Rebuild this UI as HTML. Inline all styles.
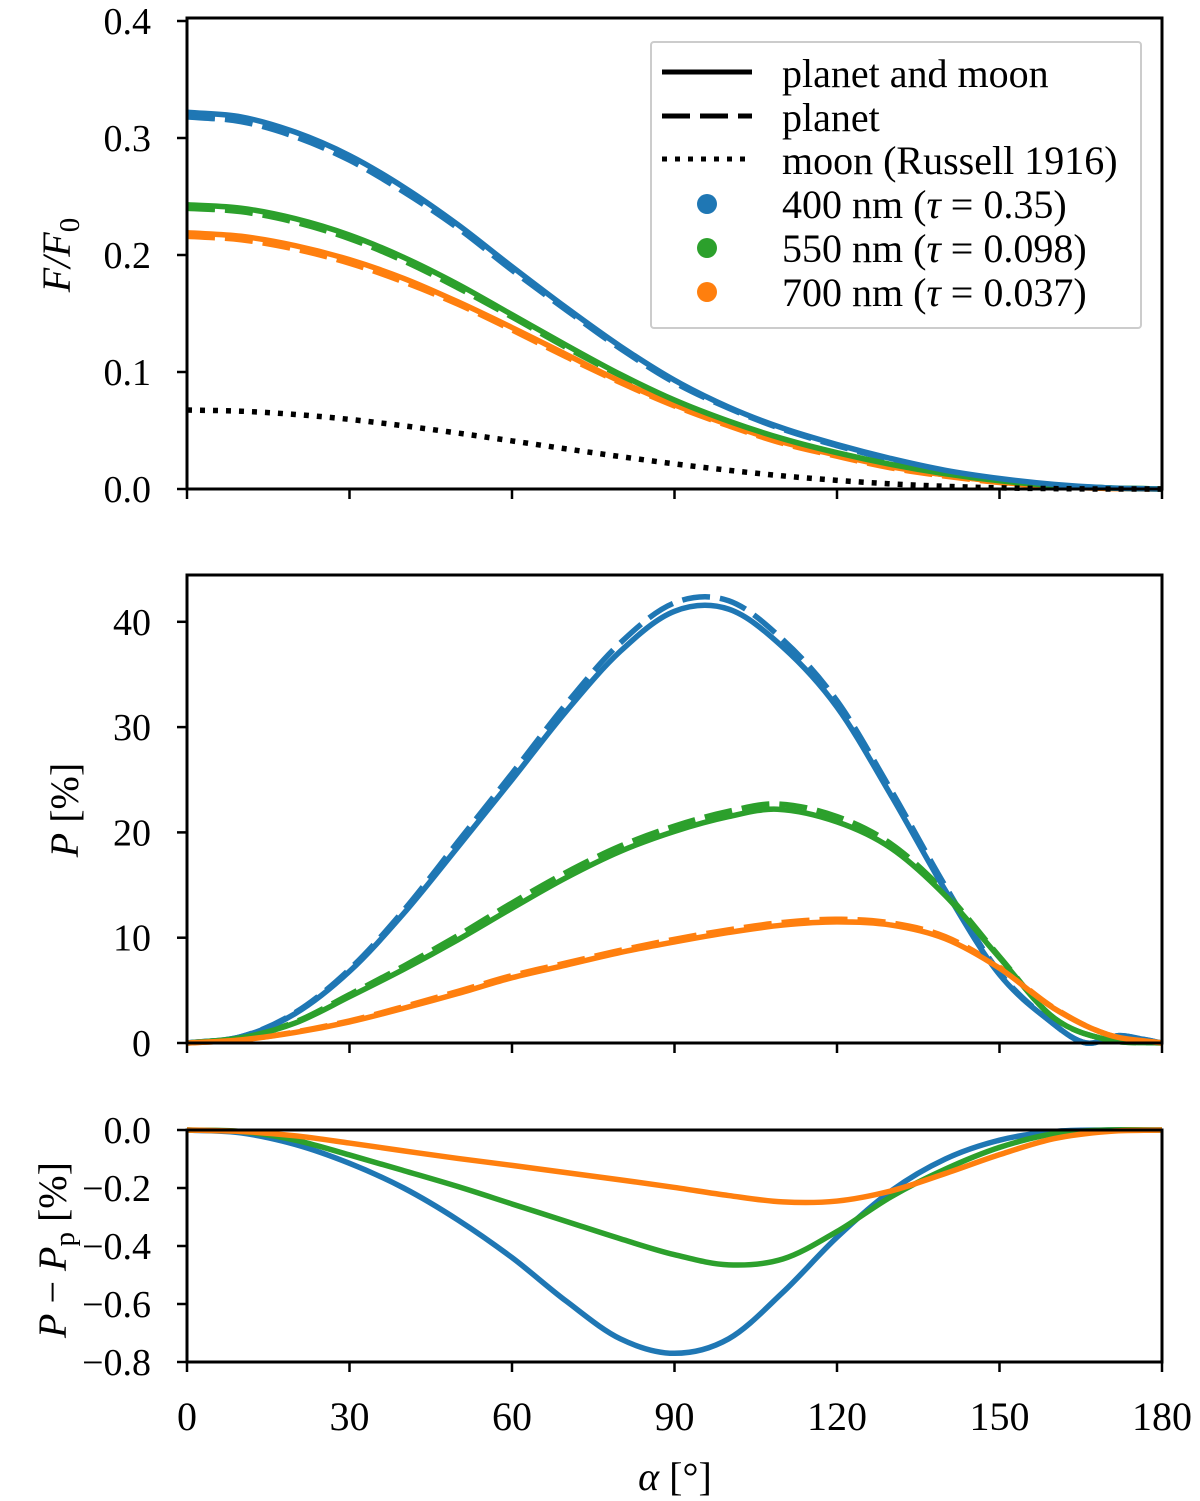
<!DOCTYPE html>
<html><head><meta charset="utf-8"><style>
html,body{margin:0;padding:0;background:#fff}
svg{display:block;font-family:"Liberation Serif","DejaVu Serif",serif}
</style></head><body>
<svg id="fig" width="1200" height="1501" viewBox="0 0 1200 1501">
<g id="marks"></g>
<g id="axes"></g>
<g id="legend">
<rect x="651" y="42" width="490" height="286" fill="#fff" fill-opacity="0.8" stroke="#ccc" stroke-width="2" rx="3"/>
<line x1="662" y1="72" x2="752" y2="72" stroke="#000" stroke-width="5"/>
<text x="782" y="87" font-size="40">planet and moon</text>
<line x1="662" y1="116" x2="752" y2="116" stroke="#000" stroke-width="5" stroke-dasharray="28,10"/>
<text x="782" y="131" font-size="40">planet</text>
<line x1="662" y1="159" x2="752" y2="159" stroke="#000" stroke-width="5" stroke-dasharray="5,8"/>
<text x="782" y="174" font-size="40">moon (Russell 1916)</text>
<circle cx="707" cy="204" r="10" fill="#1f77b4"/>
<text x="782" y="218" font-size="40">400 nm (<tspan font-style="italic">τ</tspan> = 0.35)</text>
<circle cx="707" cy="248" r="10" fill="#2ca02c"/>
<text x="782" y="262" font-size="40">550 nm (<tspan font-style="italic">τ</tspan> = 0.098)</text>
<circle cx="707" cy="292" r="10" fill="#ff7f0e"/>
<text x="782" y="306" font-size="40">700 nm (<tspan font-style="italic">τ</tspan> = 0.037)</text>
</g>
<text transform="translate(70,255) rotate(-90)" text-anchor="middle" font-size="40" font-style="italic">F/F<tspan font-size="29" dy="9" font-style="normal">0</tspan></text>
<text transform="translate(78,810) rotate(-90)" text-anchor="middle" font-size="40"><tspan font-style="italic">P</tspan> [%]</text>
<text transform="translate(66,1250) rotate(-90)" text-anchor="middle" font-size="40"><tspan font-style="italic">P</tspan> − <tspan font-style="italic">P</tspan><tspan font-size="29" dy="8">p</tspan><tspan dy="-8"> [%]</tspan></text>
<text x="675" y="1490" text-anchor="middle" font-size="40"><tspan font-style="italic">α</tspan> [°]</text>
</svg>
<script>
// ---- data ----
const xTicks = [0, 30, 60, 90, 120, 150, 180];
const fTicks = [0.0, 0.1, 0.2, 0.3, 0.4];
const fTickLabels = ["0.0", "0.1", "0.2", "0.3", "0.4"];
const pTicks = [0, 10, 20, 30, 40];
const pTickLabels = ["0", "10", "20", "30", "40"];
const dTicks = [0.0, -0.2, -0.4, -0.6, -0.8];
const dTickLabels = ["0.0", "−0.2", "−0.4", "−0.6", "−0.8"];

const angles10 = [0,10,20,30,40,50,60,70,80,90,100,110,120,130,140,150,160,170,180];
const fluxBlue   = [0.322,0.318,0.305,0.285,0.258,0.226,0.190,0.155,0.122,0.093,0.070,0.052,0.038,0.026,0.016,0.009,0.004,0.001,0];
const fluxBlueP  = [0.318,0.314,0.301,0.281,0.254,0.223,0.187,0.153,0.120,0.091,0.069,0.051,0.037,0.025,0.015,0.008,0.0035,0.001,0];
const fluxGreen  = [0.243,0.240,0.231,0.217,0.198,0.175,0.149,0.123,0.098,0.076,0.058,0.043,0.031,0.021,0.013,0.007,0.003,0.001,0];
const fluxGreenP = [0.240,0.237,0.228,0.214,0.195,0.172,0.147,0.121,0.097,0.075,0.057,0.042,0.030,0.020,0.012,0.0065,0.0028,0.001,0];
const fluxOrange = [0.219,0.216,0.208,0.196,0.180,0.160,0.138,0.115,0.092,0.072,0.055,0.040,0.029,0.019,0.012,0.006,0.002,0.0005,0];
const fluxOrangeP= [0.216,0.213,0.205,0.193,0.177,0.158,0.136,0.113,0.091,0.071,0.054,0.039,0.028,0.018,0.011,0.0055,0.002,0.0005,0];
const fluxMoon   = [0.0675,0.0665,0.0637,0.0595,0.054,0.0478,0.0411,0.0343,0.0277,0.0215,0.016,0.0112,0.0074,0.0044,0.0023,0.001,0.0003,0,0];

const pAnglesBlue = [0,10,20,30,40,50,60,70,80,90,100,110,120,130,140,150,160,166,172,176,180];
const polBlue  = [0,0.6,2.8,6.8,12.3,18.6,25,31.5,37.2,41,41.2,37.6,31.9,23.5,14.5,6.5,1.8,0,0.7,0.4,0];
const polBlueP = [0,0.6,2.9,7.0,12.6,19.1,25.6,32.2,38.0,41.8,42.0,38.3,32.5,24,14.9,6.7,1.8,0,0.7,0.4,0];
const pAnglesGreen = [0,10,20,30,40,50,60,70,80,90,100,109,120,130,140,150,160,170,180];
const polGreen  = [0,0.5,1.9,4.4,7,9.8,12.8,15.7,18.2,20.1,21.5,22.2,21,18.5,14,8.1,2.4,0.3,0];
const polGreenP = [0,0.5,2.0,4.6,7.3,10.2,13.3,16.2,18.7,20.6,22,22.7,21.5,18.9,14.3,8.2,2.4,0.3,0];
const pAnglesOrange = [0,10,20,30,40,50,60,70,80,90,100,110,120,130,140,150,160,170,180];
const polOrange  = [0,0.3,1,2,3.3,4.7,6.2,7.4,8.6,9.6,10.5,11.2,11.5,11.2,9.9,7.1,3.3,0.8,0];
const polOrangeP = [0,0.3,1.05,2.1,3.45,4.9,6.4,7.6,8.8,9.85,10.75,11.45,11.75,11.4,10.1,7.2,3.35,0.8,0];

const dAnglesBlue = [0,10,20,30,40,50,60,70,80,90,100,110,120,130,140,150,160,170,180];
const diffBlue = [0,-0.01,-0.05,-0.115,-0.2,-0.31,-0.44,-0.59,-0.72,-0.77,-0.72,-0.56,-0.37,-0.21,-0.1,-0.035,-0.005,0,0];
const dAnglesGreen = [0,10,20,30,40,50,60,70,80,90,100,110,120,130,140,150,160,170,180];
const diffGreen = [0,-0.005,-0.035,-0.086,-0.14,-0.195,-0.255,-0.315,-0.375,-0.43,-0.465,-0.445,-0.35,-0.23,-0.135,-0.06,-0.013,0,0];
const dAnglesOrange = [0,10,20,30,40,50,60,70,80,90,100,110,120,130,140,150,160,170,180];
const diffOrange = [0,-0.005,-0.02,-0.045,-0.072,-0.098,-0.122,-0.147,-0.172,-0.198,-0.226,-0.248,-0.245,-0.21,-0.15,-0.085,-0.03,-0.005,0];

// ---- layout ----
const X0 = 187, X1 = 1162;
const xs = a => X0 + (a / 180) * (X1 - X0);
const panels = {
  flux: {top: 18, bottom: 489, y: v => 489 - v / 0.4 * 468},
  pol:  {top: 575, bottom: 1043, y: v => 1043 - v * 10.53},
  diff: {top: 1130, bottom: 1362, y: v => 1130 - v * 290}
};
const NS = "http://www.w3.org/2000/svg";
const marks = document.getElementById("marks");
const axes = document.getElementById("axes");
function mk(tag, attrs, parent) {
  const e = document.createElementNS(NS, tag);
  for (const k in attrs) e.setAttribute(k, attrs[k]);
  parent.appendChild(e);
  return e;
}
function pathD(px, py) {
  const n = px.length, m = [];
  for (let i = 0; i < n; i++) {
    if (i === 0) m.push((py[1] - py[0]) / (px[1] - px[0]));
    else if (i === n - 1) m.push((py[n - 1] - py[n - 2]) / (px[n - 1] - px[n - 2]));
    else m.push((py[i + 1] - py[i - 1]) / (px[i + 1] - px[i - 1]));
  }
  let d = "M" + px[0].toFixed(2) + "," + py[0].toFixed(2);
  for (let i = 0; i < n - 1; i++) {
    const h = px[i + 1] - px[i];
    d += "C" + (px[i] + h / 3).toFixed(2) + "," + (py[i] + m[i] * h / 3).toFixed(2) + " " +
         (px[i + 1] - h / 3).toFixed(2) + "," + (py[i + 1] - m[i + 1] * h / 3).toFixed(2) + " " +
         px[i + 1].toFixed(2) + "," + py[i + 1].toFixed(2);
  }
  return d;
}
function series(panel, angles, vals, color, dash, name) {
  const P = panels[panel];
  const el = mk("path", {d: pathD(angles.map(xs), vals.map(P.y)), fill: "none", stroke: color, "stroke-width": 5.5, "stroke-linejoin": "round", "clip-path": "url(#clip-" + panel + ")"}, marks);
  if (dash) el.setAttribute("stroke-dasharray", dash);
  
  
}
const defs = mk("defs", {}, marks);
for (const k in panels) {
  const cp = mk("clipPath", {id: "clip-" + k}, defs);
  mk("rect", {x: X0 - 3, y: panels[k].top - 3, width: X1 - X0 + 6, height: panels[k].bottom - panels[k].top + 6}, cp);
}
const BL = "#1f77b4", GR = "#2ca02c", OR = "#ff7f0e", DASH = "28,10";
series("flux", angles10, fluxBlueP, BL, DASH, "flux-400-planet");
series("flux", angles10, fluxGreenP, GR, DASH, "flux-550-planet");
series("flux", angles10, fluxOrangeP, OR, DASH, "flux-700-planet");
series("flux", angles10, fluxOrange, OR, null, "flux-700-planet-moon");
series("flux", angles10, fluxGreen, GR, null, "flux-550-planet-moon");
series("flux", angles10, fluxBlue, BL, null, "flux-400-planet-moon");
series("flux", angles10, fluxMoon, "#000", "5,8", "flux-moon");
series("pol", pAnglesBlue, polBlueP, BL, DASH, "pol-400-planet");
series("pol", pAnglesGreen, polGreenP, GR, DASH, "pol-550-planet");
series("pol", pAnglesOrange, polOrangeP, OR, DASH, "pol-700-planet");
series("pol", pAnglesBlue, polBlue, BL, null, "pol-400-planet-moon");
series("pol", pAnglesGreen, polGreen, GR, null, "pol-550-planet-moon");
series("pol", pAnglesOrange, polOrange, OR, null, "pol-700-planet-moon");
series("diff", dAnglesBlue, diffBlue, BL, null, "diff-400");
series("diff", dAnglesGreen, diffGreen, GR, null, "diff-550");
series("diff", dAnglesOrange, diffOrange, OR, null, "diff-700");

function axisFrame(key, ticks, labels, showXLabels) {
  const P = panels[key];
  const r = mk("rect", {x: X0, y: P.top, width: X1 - X0, height: P.bottom - P.top, fill: "none", stroke: "#000", "stroke-width": 3}, axes);
  
  
  ticks.forEach((t, i) => {
    const y = P.y(t);
    mk("line", {x1: X0 - 10, x2: X0, y1: y, y2: y, stroke: "#000", "stroke-width": 2.5}, axes);
    const tx = mk("text", {x: X0 - 36, y: y + 13, "text-anchor": "end", "font-size": 38}, axes);
    tx.textContent = labels[i];
    
    
  });
  xTicks.forEach(t => {
    const x = xs(t);
    mk("line", {x1: x, x2: x, y1: P.bottom, y2: P.bottom + 10, stroke: "#000", "stroke-width": 2.5}, axes);
    if (showXLabels) {
      const tx = mk("text", {x: x, y: 1430, "text-anchor": "middle", "font-size": 40}, axes);
      tx.textContent = String(t);
      
      
    }
  });
}
axisFrame("flux", fTicks, fTickLabels, false);
axisFrame("pol", pTicks, pTickLabels, false);
axisFrame("diff", dTicks, dTickLabels, true);
</script>
</body></html>
